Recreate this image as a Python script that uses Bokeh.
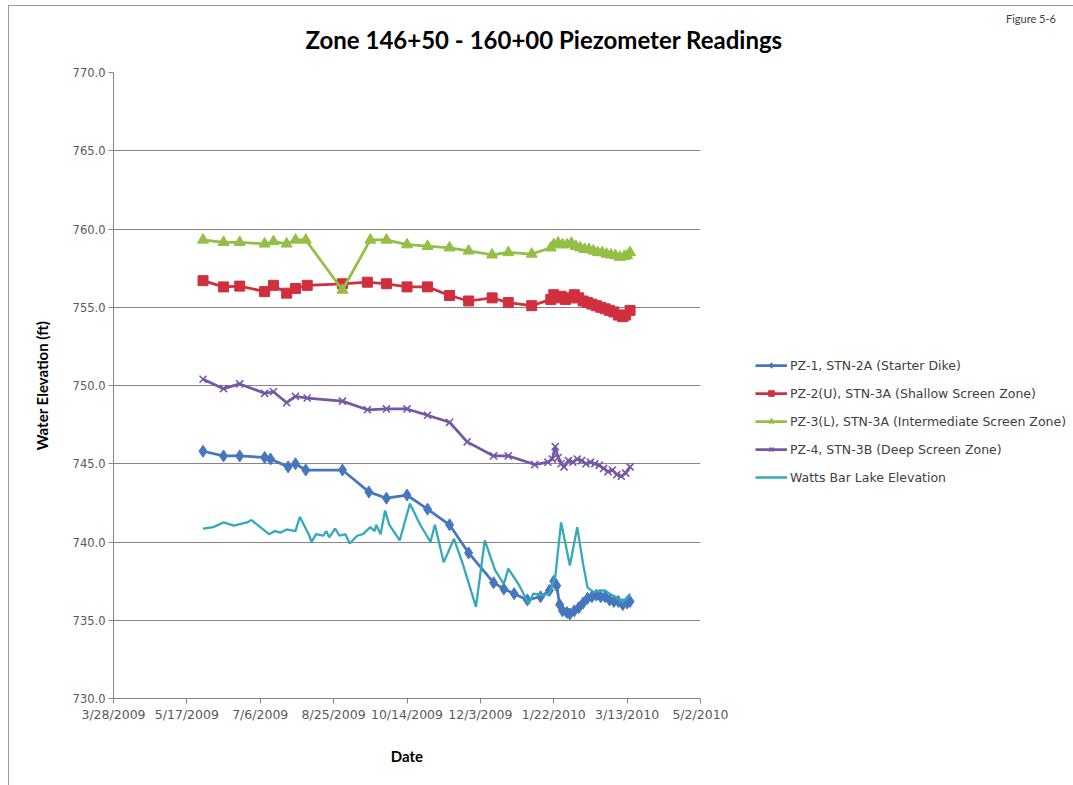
import pandas as pd
from bokeh.plotting import figure
from bokeh.layouts import column
from bokeh.models import (FixedTicker, Legend, LegendItem, NumeralTickFormatter, Range1d)
from bokeh.embed import file_html
from bokeh.resources import INLINE

# ---------------- data ----------------
x_tick_labels = ["3/28/2009", "5/17/2009", "7/6/2009", "8/25/2009", "10/14/2009",
                 "12/3/2009", "1/22/2010", "3/13/2010", "5/2/2010"]
y_ticks = [730, 735, 740, 745, 750, 755, 760, 765, 770]

pz1_dates = ["5/28/2009", "6/11/2009", "6/22/2009", "7/9/2009", "7/13/2009", "7/25/2009",
             "7/30/2009", "8/6/2009", "8/31/2009", "9/18/2009", "9/30/2009", "10/14/2009",
             "10/28/2009", "11/12/2009", "11/25/2009", "12/12/2009", "12/19/2009", "12/26/2009",
             "1/4/2010", "1/13/2010", "1/19/2010", "1/22/2010", "1/24/2010", "1/26/2010",
             "1/28/2010", "1/31/2010", "2/2/2010", "2/5/2010", "2/8/2010", "2/11/2010",
             "2/14/2010", "2/17/2010", "2/20/2010", "2/23/2010", "2/26/2010", "3/1/2010",
             "3/4/2010", "3/7/2010", "3/10/2010", "3/13/2010", "3/15/2010"]
pz1_values = [745.8, 745.5, 745.5, 745.4, 745.3, 744.8, 745.0, 744.6, 744.6, 743.2, 742.8,
              743.0, 742.1, 741.1, 739.3, 737.4, 737.0, 736.7, 736.3, 736.5, 736.9, 737.5,
              737.2, 736.0, 735.6, 735.5, 735.4, 735.6, 735.8, 736.1, 736.4, 736.5, 736.6,
              736.5, 736.5, 736.3, 736.2, 736.2, 736.0, 736.1, 736.2]

pz2_dates = ["5/28/2009", "6/11/2009", "6/22/2009", "7/9/2009", "7/15/2009", "7/24/2009",
             "7/30/2009", "8/7/2009", "8/31/2009", "9/17/2009", "9/30/2009", "10/14/2009",
             "10/28/2009", "11/12/2009", "11/25/2009", "12/11/2009", "12/22/2009", "1/7/2010",
             "1/20/2010", "1/22/2010", "1/24/2010", "1/27/2010", "1/30/2010", "2/2/2010",
             "2/5/2010", "2/8/2010", "2/11/2010", "2/14/2010", "2/17/2010", "2/20/2010",
             "2/23/2010", "2/26/2010", "3/1/2010", "3/4/2010", "3/7/2010", "3/10/2010",
             "3/12/2010", "3/15/2010"]
pz2_values = [756.7, 756.3, 756.35, 756.0, 756.4, 755.9, 756.2, 756.4, 756.5, 756.6, 756.5,
              756.3, 756.3, 755.75, 755.4, 755.6, 755.3, 755.1, 755.5, 755.8, 755.6, 755.7,
              755.5, 755.6, 755.8, 755.6, 755.4, 755.3, 755.2, 755.1, 755.0, 754.9, 754.8,
              754.7, 754.5, 754.4, 754.5, 754.8]

pz3_dates = ["5/28/2009", "6/11/2009", "6/22/2009", "7/9/2009", "7/15/2009", "7/24/2009",
             "7/30/2009", "8/6/2009", "8/31/2009", "9/19/2009", "9/30/2009", "10/14/2009",
             "10/28/2009", "11/12/2009", "11/25/2009", "12/11/2009", "12/22/2009", "1/7/2010",
             "1/20/2010", "1/22/2010", "1/25/2010", "1/28/2010", "1/31/2010", "2/3/2010",
             "2/6/2010", "2/9/2010", "2/12/2010", "2/15/2010", "2/18/2010", "2/21/2010",
             "2/24/2010", "2/27/2010", "3/2/2010", "3/5/2010", "3/8/2010", "3/11/2010",
             "3/13/2010", "3/15/2010"]
pz3_values = [759.3, 759.15, 759.15, 759.05, 759.2, 759.05, 759.3, 759.3, 756.1, 759.3, 759.3,
              759.0, 758.9, 758.8, 758.6, 758.35, 758.5, 758.4, 758.8, 759.0, 759.1, 759.0,
              759.0, 759.1, 758.9, 758.8, 758.7, 758.7, 758.6, 758.5, 758.5, 758.4, 758.35,
              758.3, 758.2, 758.25, 758.3, 758.5]

pz4_dates = ["5/28/2009", "6/11/2009", "6/22/2009", "7/9/2009", "7/15/2009", "7/24/2009",
             "7/30/2009", "8/7/2009", "8/31/2009", "9/17/2009", "9/30/2009", "10/14/2009",
             "10/28/2009", "11/12/2009", "11/24/2009", "12/12/2009", "12/22/2009", "1/9/2010",
             "1/18/2010", "1/21/2010", "1/23/2010", "1/25/2010", "1/27/2010", "1/29/2010",
             "2/1/2010", "2/4/2010", "2/7/2010", "2/10/2010", "2/13/2010", "2/16/2010",
             "2/19/2010", "2/22/2010", "2/25/2010", "2/28/2010", "3/3/2010", "3/6/2010",
             "3/9/2010", "3/12/2010", "3/15/2010"]
pz4_values = [750.4, 749.8, 750.1, 749.5, 749.6, 748.9, 749.3, 749.2, 749.0, 748.45, 748.5,
              748.5, 748.1, 747.65, 746.4, 745.5, 745.5, 744.95, 745.1, 745.3, 746.1, 745.4,
              745.0, 744.8, 745.2, 745.1, 745.3, 745.2, 745.0, 745.1, 745.0, 744.9, 744.7,
              744.5, 744.6, 744.3, 744.2, 744.4, 744.8]

lake_dates = ["5/28/2009", "6/4/2009", "6/11/2009", "6/18/2009", "6/27/2009", "6/30/2009",
              "7/6/2009", "7/12/2009", "7/16/2009", "7/20/2009", "7/24/2009", "7/30/2009",
              "8/2/2009", "8/8/2009", "8/10/2009", "8/13/2009", "8/18/2009", "8/20/2009",
              "8/22/2009", "8/26/2009", "8/29/2009", "9/2/2009", "9/5/2009", "9/10/2009",
              "9/14/2009", "9/19/2009", "9/22/2009", "9/23/2009", "9/26/2009", "9/29/2009",
              "10/2/2009", "10/9/2009", "10/16/2009", "10/23/2009", "10/30/2009", "11/2/2009",
              "11/8/2009", "11/15/2009", "11/21/2009", "11/30/2009", "12/6/2009", "12/13/2009",
              "12/19/2009", "12/22/2009", "12/29/2009", "1/5/2010", "1/8/2010", "1/15/2010",
              "1/19/2010", "1/23/2010", "1/27/2010", "2/2/2010", "2/7/2010", "2/11/2010",
              "2/14/2010", "2/18/2010", "2/22/2010", "2/26/2010", "3/1/2010", "3/5/2010",
              "3/10/2010", "3/15/2010"]
lake_values = [740.85, 740.95, 741.25, 741.05, 741.25, 741.4, 740.95, 740.5, 740.7, 740.6,
               740.8, 740.7, 741.6, 740.5, 740.0, 740.5, 740.4, 740.7, 740.3, 740.85, 740.4,
               740.5, 739.9, 740.4, 740.5, 740.95, 740.7, 741.1, 740.5, 742.0, 741.1, 740.1,
               742.45, 741.1, 740.0, 741.1, 738.7, 740.2, 738.6, 735.85, 740.1, 738.2, 737.3,
               738.3, 737.3, 736.05, 736.7, 736.6, 736.7, 737.75, 741.25, 738.5, 740.95, 738.6,
               737.1, 736.8, 736.9, 736.9, 736.7, 736.5, 736.15, 736.7]

series_labels = ["PZ-1, STN-2A (Starter Dike)",
                 "PZ-2(U), STN-3A (Shallow Screen Zone)",
                 "PZ-3(L), STN-3A (Intermediate Screen Zone)",
                 "PZ-4, STN-3B (Deep Screen Zone)",
                 "Watts Bar Lake Elevation"]

chart_title = "Zone 146+50 - 160+00 Piezometer Readings"
figure_note = "Figure 5-6"


def to_dt(lst):
    return pd.to_datetime(lst, format="%m/%d/%Y")


tick_dt = to_dt(x_tick_labels)
tick_ms = [float(t.value // 10**6) for t in tick_dt]

FONT = "DejaVu Sans"
GRAY = "#868686"
TXT = "#595959"
W = 1055

p = figure(frame_width=587, frame_height=626, x_axis_type="datetime",
           output_backend="svg", toolbar_location=None,
           x_range=Range1d(tick_dt[0], tick_dt[-1]), y_range=Range1d(730, 770),
           min_border_left=104, min_border_right=W - 104 - 587,
           min_border_top=66, min_border_bottom=79)
p.outline_line_color = None
p.background_fill_color = "white"
p.border_fill_color = "white"

# chart title
p.title.text = chart_title
p.title.text_font = "Lato"
p.title.text_font_style = "bold"
p.title.text_font_size = "24px"
p.title.text_color = "#000000"
p.title.align = "left"
p.title.offset = 192
p.title.standoff = 34
p.title.vertical_align = "top"

p.xaxis.ticker = FixedTicker(ticks=tick_ms)
p.xaxis.major_label_overrides = {t: l for t, l in zip(tick_ms, x_tick_labels)}
p.yaxis.ticker = FixedTicker(ticks=y_ticks)
p.yaxis.formatter = NumeralTickFormatter(format="0.0")
for ax in (p.xaxis, p.yaxis):
    ax.axis_line_color = GRAY
    ax.major_tick_line_color = GRAY
    ax.minor_tick_line_color = None
    ax.major_tick_out = 5
    ax.major_tick_in = 0
    ax.major_label_text_font = FONT
    ax.major_label_text_color = TXT
    ax.axis_label_text_font = "Lato"
    ax.axis_label_text_font_style = "bold"
    ax.axis_label_text_font_size = "15px"
    ax.axis_label_text_color = "#000000"
p.xaxis.major_label_text_font_size = "12.5px"
p.yaxis.major_label_text_font_size = "11.5px"
p.xaxis.axis_label = "Date"
p.xaxis.axis_label_standoff = 22
p.xaxis.major_label_standoff = 3
p.yaxis.axis_label = "Water Elevation (ft)"
p.yaxis.axis_label_standoff = 19
p.yaxis.major_label_standoff = 3
p.xgrid.visible = False
p.ygrid.grid_line_color = GRAY
p.ygrid.grid_line_width = 1

specs = [
    (pz1_dates, pz1_values, "#4677BE", "diamond", 12, 2.75),
    (pz2_dates, pz2_values, "#D0303E", "square", 10, 2.75),
    (pz3_dates, pz3_values, "#93BF45", "triangle", 11, 2.75),
    (pz4_dates, pz4_values, "#7457A6", "x", 10, 2.75),
    (lake_dates, lake_values, "#33AABB", None, 0, 2.3),
]
items = []
for (d, v, col, mk, sz, lw), lab in zip(specs, series_labels):
    xs = to_dt(d)
    rs = [p.line(xs, v, line_color=col, line_width=lw)]
    if mk is not None:
        if mk == "x":
            rs.append(p.scatter(xs, v, marker=mk, size=sz, line_color=col, line_width=1.6))
        else:
            rs.append(p.scatter(xs, v, marker=mk, size=sz, fill_color=col, line_color=col))
    items.append(LegendItem(label=lab, renderers=rs))

legend = Legend(items=items, location=(55, 211), padding=0, margin=0, spacing=8,
                label_height=20, glyph_width=32, glyph_height=14, label_standoff=3,
                border_line_color=None, background_fill_alpha=0,
                label_text_font=FONT, label_text_font_size="12.5px", label_text_color="#404040")
p.add_layout(legend, "right")

# figure note (top right corner), drawn as the title of an otherwise empty legend
blank = p.line(x=[], y=[], line_alpha=0)
note = Legend(items=[LegendItem(label="", renderers=[blank])], title=figure_note,
              title_text_font="Lato", title_text_font_size="11px",
              title_text_font_style="normal", title_text_color="#404040",
              title_standoff=0, label_height=0, glyph_height=0, glyph_width=0,
              label_standoff=0, label_text_font_size="1px", padding=0, margin=0, spacing=0,
              border_line_color=None, background_fill_alpha=0, location=(893, 755))
p.add_layout(note, "below")

layout = column(p, spacing=0,
                styles={"margin-left": "8px", "margin-top": "5px",
                        "border-left": "1px solid #9A9A9A", "border-top": "1px solid #9A9A9A",
                        "border-bottom": "1px solid #9A9A9A", "border-right": "0px"})

open("out.html", "w").write(file_html(layout, INLINE))
